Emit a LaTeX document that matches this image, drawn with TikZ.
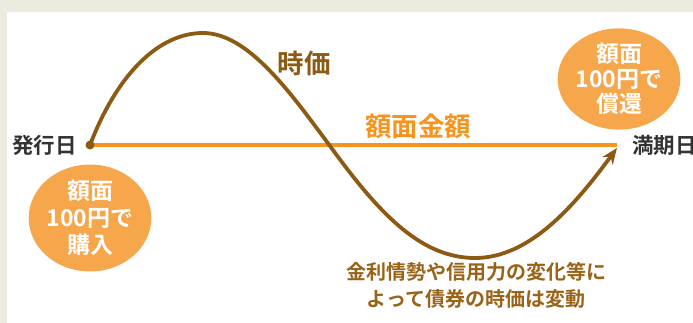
\documentclass[tikz,border=0pt]{standalone}
\usepackage{fontspec}
\setmainfont{Noto Sans CJK JP}[BoldFont={Noto Sans CJK JP Bold}]
\usetikzlibrary{arrows.meta,shapes.geometric}
\definecolor{bgbeige}{HTML}{EDEAE0}
\definecolor{curvebrown}{HTML}{8C5A12}
\definecolor{lineorange}{HTML}{F7941D}
\definecolor{circorange}{HTML}{F6A64B}
\definecolor{darktext}{HTML}{333333}
\definecolor{notebrown}{HTML}{9A6418}
\tikzset{
  pricecurve/.style={draw=curvebrown, line width=3.8pt, line cap=round},
  faceline/.style={draw=lineorange, line width=3.4pt},
  bubble/.style={ellipse, fill=circorange, minimum width=106pt, minimum height=106pt, inner sep=0pt,
    text=white, font=\bfseries\fontsize{23}{27}\selectfont, align=center},
  datelabel/.style={text=darktext, font=\bfseries\fontsize{21.5}{24}\selectfont, inner sep=0pt},
}
\begin{document}
\begin{tikzpicture}[x=1pt,y=-1pt]
\useasboundingbox (0,0) rectangle (693,323);
\clip (0,0) rectangle (693,323);
\fill[bgbeige] (0,0) rectangle (693,323);
\fill[white] (7,12) rectangle (700,330);
% nodes
\coordinate (issue) at (90,145);
\coordinate (maturity) at (617,145);
\coordinate (peak) at (203,33);
\coordinate (cross) at (330,146);
\coordinate (trough) at (475,258);
\coordinate (tip) at (617,148);
\draw[faceline] (issue) -- (maturity);
\draw[pricecurve, -{Stealth[length=16pt,width=13pt]}]
  (issue) .. controls (118,72) and (160,33) .. (peak)
  .. controls (248,33) and (290,92) .. (cross)
  .. controls (378,212) and (420,258) .. (trough)
  .. controls (530,258) and (575,205) .. (tip);
\fill[curvebrown] (issue) circle (4.5pt);
\node[datelabel, anchor=east] (hakko) at (77,145) {発行日};
\node[datelabel, anchor=west] (manki) at (632,145) {満期日};
\node[text=curvebrown, font=\bfseries\fontsize{26.5}{28}\selectfont] (jika) at (304,63) {時価};
\node[text=lineorange, font=\bfseries\fontsize{26.5}{28}\selectfont] (gakumen) at (418,126) {額面金額};
\node[bubble] (buy) at (90,218) {額面\\100円で\\購入};
\node[bubble, minimum height=96pt, font=\bfseries\fontsize{23}{25}\selectfont] (redeem) at (619,79) {額面\\100円で\\償還};
\node[text=notebrown, font=\bfseries\fontsize{20}{27}\selectfont, align=center] (note) at (476,285)
  {金利情勢や信用力の変化等に\\よって債券の時価は変動};
\end{tikzpicture}
\end{document}
